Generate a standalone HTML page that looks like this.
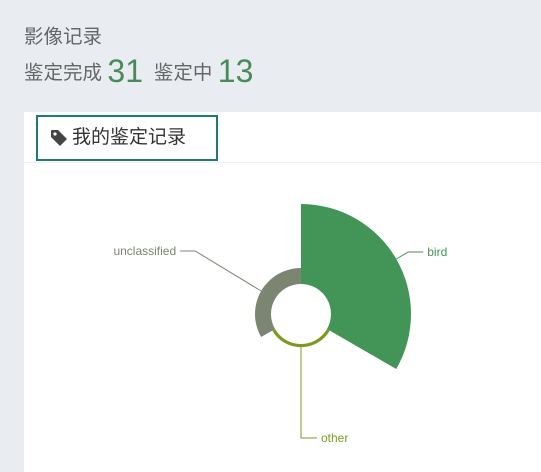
<!DOCTYPE html>
<html><head><meta charset="utf-8"><style>
body{margin:0;width:541px;height:463px;background:#e9edf2;font-family:"Liberation Sans","Noto Sans CJK SC",sans-serif;overflow:hidden;position:relative}
.t{position:absolute;color:#666}
</style></head><body>
<div class="t" style="left:24px;top:20px;font-size:19.5px">影像记录</div>
<div class="t" style="left:24px;top:53px;font-size:19.5px;white-space:nowrap">鉴定完成 <span style="font-size:32px;color:#4a8a5a;vertical-align:-3px">31</span>&nbsp; 鉴定中 <span style="font-size:32px;color:#4a8a5a;vertical-align:-3px">13</span></div>
<div style="position:absolute;left:24px;top:112px;width:530px;height:360px;background:#fff">
<div style="position:absolute;left:0;right:0;top:50px;border-top:1px solid #eef0f2"></div>
<div style="position:absolute;left:12px;top:3px;width:178px;height:42px;border:2px solid #1d7a74;font-size:19px;color:#333;line-height:42px;box-sizing:content-box">
<svg width="18" height="18" viewBox="0 0 18 18" style="position:absolute;left:12px;top:12px"><path d="M1 2 Q1 1 2 1 L8 1 L17 10 L10 17 L1 8 Z" fill="#444"/><circle cx="5" cy="5" r="1.6" fill="#fff"/></svg>
<span style="position:absolute;left:34px;top:0">我的鉴定记录</span></div>
</div>
<svg id="c" width="541" height="463" style="position:absolute;left:0;top:0"></svg>
<script>
const categories=["bird","other","unclassified"];
const values=[25,1,5];
const colors=["#439457","#7c9a1e","#7c8571"];
const svg=document.getElementById('c');const NS="http://www.w3.org/2000/svg";
const cx=301,cy=314,r0=30,r1=110;
const maxV=Math.max(...values);
function rad(v){return r0+(r1-r0)*v/maxV;}
function pt(r,a){const t=(a-90)*Math.PI/180;return [cx+r*Math.cos(t),cy+r*Math.sin(t)];}
const step=360/categories.length;
categories.forEach((c,i)=>{
 const a0=i*step,a1=(i+1)*step,r=rad(values[i]);
 const p1=pt(r0,a0),p2=pt(r,a0),p3=pt(r,a1),p4=pt(r0,a1);
 const p=document.createElementNS(NS,'path');
 p.setAttribute('d',`M${p1} L${p2} A${r},${r} 0 0 1 ${p3} L${p4} A${r0},${r0} 0 0 0 ${p1}Z`);
 p.setAttribute('fill',colors[i]);
 
 
 svg.appendChild(p);
 const mid=(a0+a1)/2;const s=pt(r,mid);
 let e1,e2,tx,anchor;
 if(c==='other'){e1=[s[0],438];e2=[s[0]+16,438];tx=[s[0]+20,442];anchor='start';}
 else if(c==='bird'){e1=[s[0]+12,s[1]-7];e2=[e1[0]+15,e1[1]];tx=[e2[0]+4,e2[1]+4];anchor='start';}
 else{e1=[s[0]-66,s[1]-40];e2=[e1[0]-15,e1[1]];tx=[e2[0]-4,e2[1]+4];anchor='end';}
 const l=document.createElementNS(NS,'polyline');
 l.setAttribute('points',`${s} ${e1} ${e2}`);
 l.setAttribute('fill','none');l.setAttribute('stroke',colors[i]);l.setAttribute('stroke-width','1');
 
 
 svg.appendChild(l);
 const t=document.createElementNS(NS,'text');
 t.setAttribute('x',tx[0]);t.setAttribute('y',tx[1]);t.setAttribute('text-anchor',anchor);
 t.setAttribute('font-size','12');t.setAttribute('fill',colors[i]);
 t.setAttribute('font-family','"Liberation Sans",sans-serif');
 t.textContent=c;
 
 
 svg.appendChild(t);
});
</script>
</body></html>
